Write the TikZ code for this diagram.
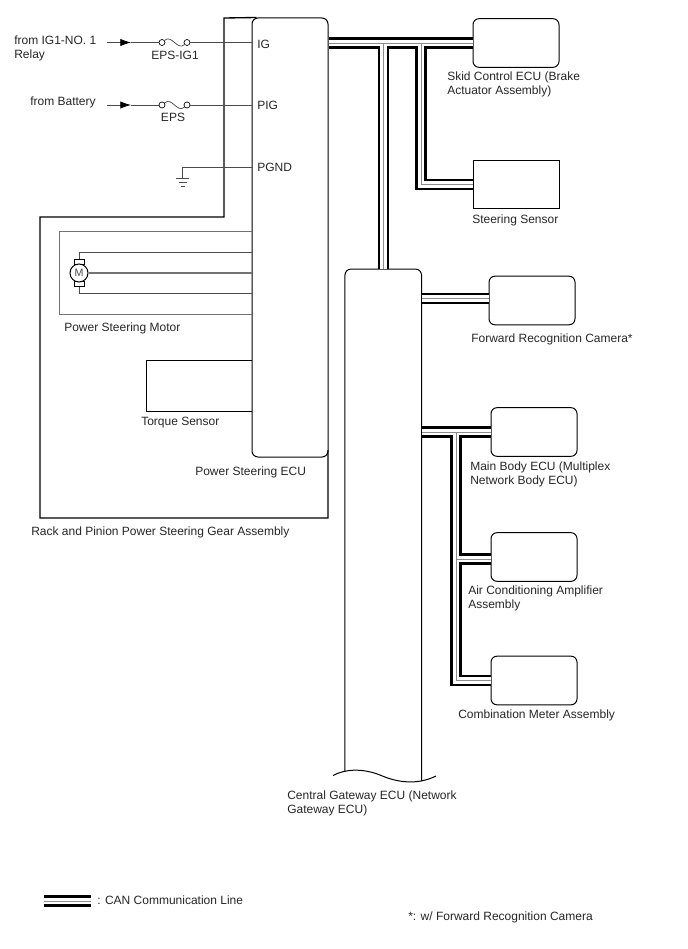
\documentclass[tikz,border=0pt]{standalone}
\usepackage{fontspec}
\setmainfont{Liberation Sans}
\usetikzlibrary{arrows.meta}

\tikzset{
	txt/.style={anchor=west, inner sep=0pt, align=left, font=\fontsize{9pt}{10.5pt}\selectfont, text=black!85},
	ctxt/.style={txt, anchor=center},
	thin wire/.style={line width=0.55pt, black!70},
	ecubox/.style={draw, rounded corners=4.5pt, line width=0.75pt, minimum width=64.5pt, minimum height=36.5pt, inner sep=0pt},
	sensorbox/.style={draw, line width=0.75pt, minimum width=64.5pt, minimum height=36pt, inner sep=0pt},
	fusepin/.style={draw, circle, line width=0.5pt, minimum size=4.5pt, inner sep=0pt},
	anchorbox/.style={minimum width=57pt, inner sep=0pt},
	motorcap/.style={draw, fill=white, line width=0.75pt, minimum width=7.5pt, minimum height=4.25pt, inner sep=0pt},
	canouter/.style={line width=8.6pt, black},
	caninner/.style={line width=4.9pt, white},
	cancore/.style={line width=0.7pt, black!45},
}
% one CAN bundle: black, then white, then the core on top
\newcommand{\canwire}[1]{
	\draw[canouter] #1;
	\draw[caninner] #1;
	\draw[cancore] #1;
}

\begin{document}
\begin{tikzpicture}[x=0.75pt, y=-0.75pt]
	\useasboundingbox (0, 0) rectangle (688, 949);

	% ECUs and sensors
	\node (eps) at (290, 237.5)		[anchorbox, minimum height=329.25pt, draw, rounded corners=4.5pt, line width=0.75pt] {};
	\node (cgw) at (383.25, 520)	[anchorbox, minimum height=376pt] {};
	\node (skid) at (516, 43)		[ecubox] {};
	\node (steer) at (516, 184.4)	[sensorbox] {};
	\node (cam) at (532, 300.5)		[ecubox] {};
	\node (body) at (534, 432)		[ecubox] {};
	\node (air) at (534, 557)		[ecubox] {};
	\node (meter) at (534, 680.5)	[ecubox] {};

	% open bottom of the gateway
	\coordinate (wl) at (cgw.west |- 0, 771);
	\coordinate (wr) at (cgw.east |- 0, 781);
	\draw[line width=0.75pt, rounded corners=4.5pt] (wl) -- (cgw.north west) -- (cgw.north east) -- (wr);
	\draw[line width=0.75pt] (333, 775.5) .. controls (345, 769) and (362, 768) .. (380, 775) .. controls (398, 783) and (418, 785) .. (436, 776);

	% gear assembly outline
	\draw[line width=1pt] (eps.north west) ++(5, 0) -- (224, 18) -- (224, 217) -- (40, 217) -- (40, 518) -- (328, 518) -- (328, 450);

	% CAN lines
	\coordinate (junctgw) at (383.5, 43);
	\coordinate (junctsk) at (421, 43);
	\coordinate (junctbd) at (456, 432);
	\canwire{(eps.east |- skid.west) -- (skid.west)
		(junctgw) -- (junctgw |- cgw.north)
		(junctsk) -- (junctsk |- steer.west) -- (steer.west)
		(cgw.east |- 0, 298.5) -- (cam.west |- 0, 298.5)
		(cgw.east |- body.west) -- (body.west)
		(junctbd) -- (junctbd |- meter.west) -- (meter.west)
		(junctbd |- 0, 559) -- (air.west |- 0, 559)}

	% power supply
	\coordinate (ig) at (107, 42.5);
	\coordinate (igarrow) at (131, 42.5);
	\node (f1a) at (162, 42.5)	[fusepin] {};
	\node (f1b) at (187, 42.5)	[fusepin] {};
	\draw[thin wire, -{Latex[length=8pt, width=5.5pt, black]}] (ig) -- (igarrow);
	\draw[thin wire] (igarrow) -- (f1a);
	\draw[thin wire] (f1a) .. controls (172, 34) and (177, 51) .. (f1b);
	\draw[thin wire] (f1b) -- (eps.west |- f1b);

	\coordinate (pig) at (107, 105);
	\coordinate (pigarrow) at (131, 105);
	\node (f2a) at (162, 105)	[fusepin] {};
	\node (f2b) at (187, 105)	[fusepin] {};
	\draw[thin wire, -{Latex[length=8pt, width=5.5pt, black]}] (pig) -- (pigarrow);
	\draw[thin wire] (pigarrow) -- (f2a);
	\draw[thin wire] (f2a) .. controls (172, 96.5) and (177, 113.5) .. (f2b);
	\draw[thin wire] (f2b) -- (eps.west |- f2b);

	% ground
	\coordinate (gnd) at (182.5, 177.5);
	\draw[thin wire] (eps.west |- gnd) ++(0, -10.5) -- (182.5, 167) -- (gnd);
	\draw[thin wire] (176, 178) -- (189, 178);
	\draw[thin wire] (178.5, 182) -- (186.5, 182);
	\draw[thin wire] (180.5, 186) -- (184.5, 186);

	% motor
	\draw[thin wire, black!55] (eps.west |- 0, 231) -- (59, 231) -- (59, 314) -- (eps.west |- 0, 314);
	\node (capt) at (79, 262)	[motorcap] {};
	\node (capb) at (79, 284)	[motorcap] {};
	\node (motor) at (79, 273)	[draw, circle, fill=white, line width=0.75pt, minimum size=13.5pt, inner sep=0pt, font=\fontsize{8pt}{9pt}\selectfont, text=black!70] {M};
	\draw[thin wire] (capt.north) -- (79, 252) -- (eps.west |- 0, 252);
	\draw[thin wire, line width=0.9pt, black!55] (motor) -- (eps.west |- motor);
	\draw[thin wire] (capb.south) -- (79, 293) -- (eps.west |- 0, 293);

	% torque sensor
	\draw[line width=0.7pt] (eps.west |- 0, 360) -- (146, 360) -- (146, 411) -- (eps.west |- 0, 411);

	% labels
	\node (l1) at (14, 48)		[txt] {from IG1-NO. 1\\Relay};
	\node (l2) at (30, 102)		[txt] {from Battery};
	\node (l3) at (175, 55)		[ctxt] {EPS-IG1};
	\node (l4) at (173, 117)	[ctxt] {EPS};
	\node (l5) at (257, 44)		[txt] {IG};
	\node (l6) at (257, 105)	[txt] {PIG};
	\node (l7) at (257, 167)	[txt] {PGND};
	\node (l8) at (64, 328)		[txt] {Power Steering Motor};
	\node (l9) at (141, 423)	[txt] {Torque Sensor};
	\node (l10) at (195, 472)	[txt] {Power Steering ECU};
	\node (l11) at (31, 532)	[txt] {Rack and Pinion Power Steering Gear Assembly};
	\node (l12) at (447, 84)	[txt] {Skid Control ECU (Brake\\Actuator Assembly)};
	\node (l13) at (472, 220)	[txt] {Steering Sensor};
	\node (l14) at (471, 339)	[txt] {Forward Recognition Camera*};
	\node (l15) at (470, 474)	[txt] {Main Body ECU (Multiplex\\Network Body ECU)};
	\node (l16) at (468, 598)	[txt] {Air Conditioning Amplifier\\Assembly};
	\node (l17) at (458, 715)	[txt] {Combination Meter Assembly};
	\node (l18) at (287, 803)	[txt] {Central Gateway ECU (Network\\Gateway ECU)};

	% legend
	\coordinate (lega) at (44, 901);
	\coordinate (legb) at (91, 901);
	\canwire{(lega) -- (legb)}
	\node (l19) at (97, 900)	[txt] {: CAN Communication Line};
	\node (l20) at (408, 917)	[txt] {*: w/ Forward Recognition Camera};
\end{tikzpicture}
\end{document}
